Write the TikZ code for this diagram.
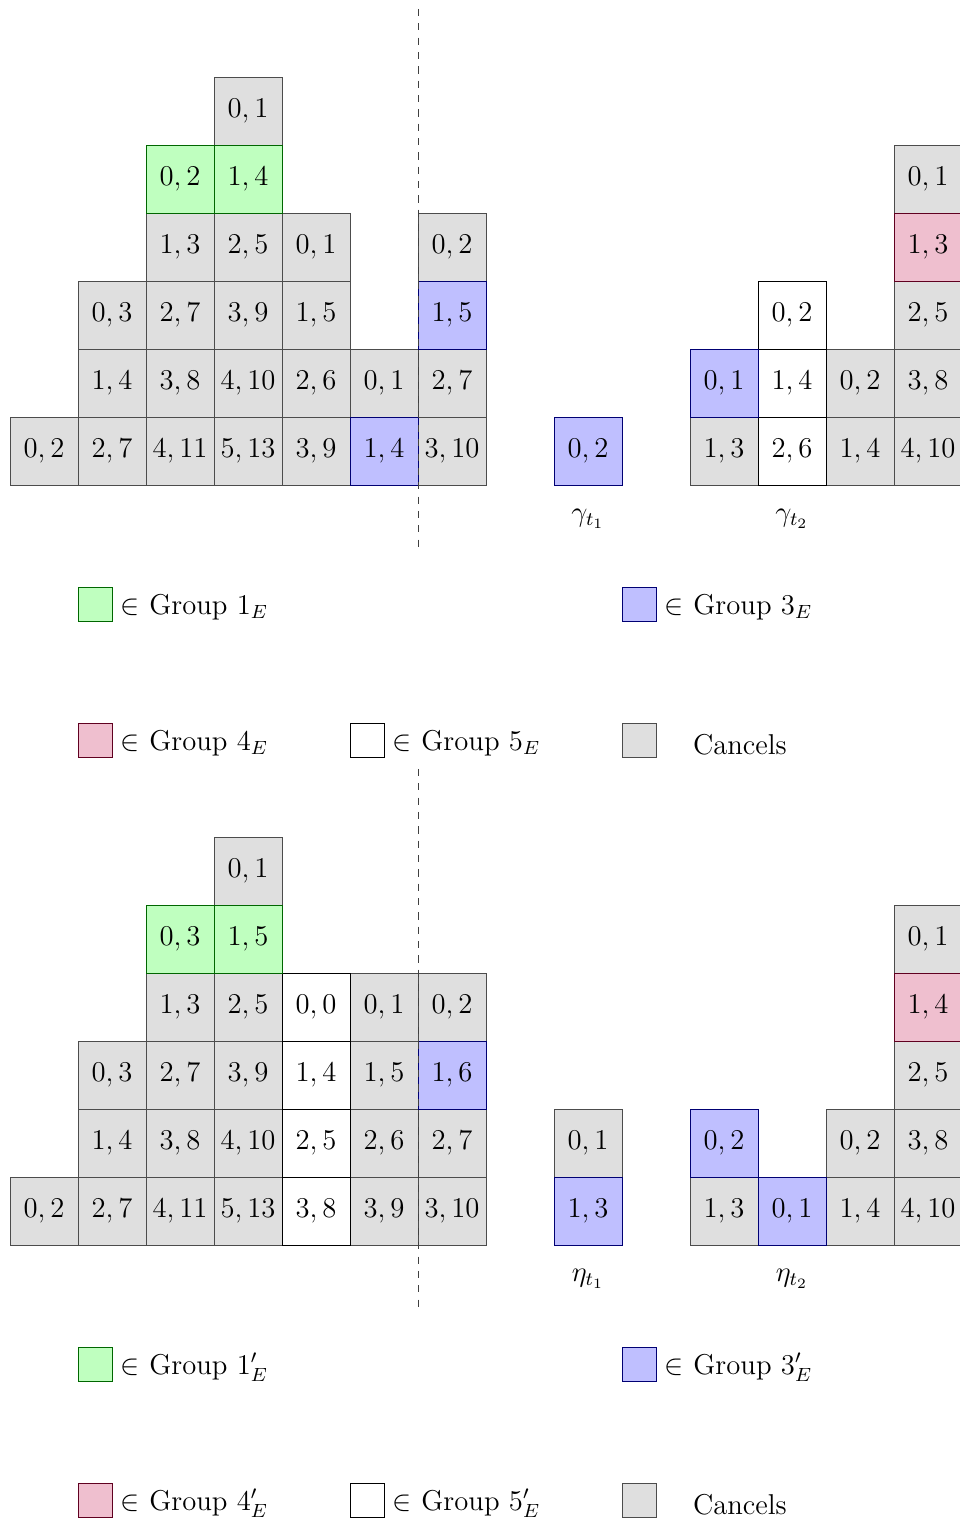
\documentclass[tikz,border=0pt]{standalone}
\begin{document}
\begin{tikzpicture}[
  font=\large,
  cellb/.style={minimum size=1cm, inner sep=0pt, draw},
  gc/.style={cellb, fill=gray!25, draw=black!70},
  gr/.style={cellb, fill=green!25, draw=green!40!black},
  bl/.style={cellb, fill=blue!25, draw=blue!45!black},
  pk/.style={cellb, fill=purple!25, draw=purple!50!black},
  wh/.style={cellb, fill=white, draw=black},
  legsq/.style={minimum size=0.5cm, inner sep=0pt},
  legtxt/.style={anchor=west, yshift=-0.045cm},
  divider/.style={dashed, draw=black!75},
]
\useasboundingbox (-0.147,-15.235) rectangle (13.956,7.132);

% ---------------- top half ----------------
\begin{scope}
\foreach \x/\y/\s/\t in {
  0/0/gc/{0,2}, 1/0/gc/{2,7}, 2/0/gc/{4,11}, 3/0/gc/{5,13}, 4/0/gc/{3,9}, 6/0/gc/{3,10},
  1/1/gc/{1,4}, 2/1/gc/{3,8}, 3/1/gc/{4,10}, 4/1/gc/{2,6}, 5/1/gc/{0,1}, 6/1/gc/{2,7},
  1/2/gc/{0,3}, 2/2/gc/{2,7}, 3/2/gc/{3,9}, 4/2/gc/{1,5},
  2/3/gc/{1,3}, 3/3/gc/{2,5}, 4/3/gc/{0,1}, 6/3/gc/{0,2},
  3/5/gc/{0,1},
  10/0/gc/{1,3}, 12/0/gc/{1,4}, 13/0/gc/{4,10}, 12/1/gc/{0,2}, 13/1/gc/{3,8},
  13/2/gc/{2,5}, 13/4/gc/{0,1},
  11/0/wh/{2,6}, 11/1/wh/{1,4}, 11/2/wh/{0,2},
  5/0/bl/{1,4}, 6/2/bl/{1,5}, 8/0/bl/{0,2}, 10/1/bl/{0,1},
  2/4/gr/{0,2}, 3/4/gr/{1,4},
  13/3/pk/{1,3}}
  \node[\s] (a-\x-\y) at (\x+0.5,\y+0.5) {$\t$};

\coordinate (atop) at (6,7);
\coordinate (abot) at (6,-1);
\draw[divider] (atop) -- (abot);

\node (agam1) at (8.5,-0.5) {$\gamma_{t_1}$};
\node (agam2) at (11.5,-0.5) {$\gamma_{t_2}$};

\node[gr, legsq] (aL1) at (1.25,-1.75) {};
\node[legtxt] (aL1t) at (aL1.east) {$\in$ Group $1_E$};
\node[bl, legsq] (aL3) at (9.25,-1.75) {};
\node[legtxt] (aL3t) at (aL3.east) {$\in$ Group $3_E$};
\node[pk, legsq] (aL4) at (1.25,-3.75) {};
\node[legtxt] (aL4t) at (aL4.east) {$\in$ Group $4_E$};
\node[wh, legsq] (aL5) at (5.25,-3.75) {};
\node[legtxt] (aL5t) at (aL5.east) {$\in$ Group $5_E$};
\node[gc, legsq] (aL6) at (9.25,-3.75) {};
\node[anchor=base west] (aL6t) at (9.92,-3.967) {Cancels};
\end{scope}

% ---------------- bottom half ----------------
\begin{scope}[yshift=-11.176cm]
\foreach \x/\y/\s/\t in {
  0/0/gc/{0,2}, 1/0/gc/{2,7}, 2/0/gc/{4,11}, 3/0/gc/{5,13}, 5/0/gc/{3,9}, 6/0/gc/{3,10},
  1/1/gc/{1,4}, 2/1/gc/{3,8}, 3/1/gc/{4,10}, 5/1/gc/{2,6}, 6/1/gc/{2,7},
  1/2/gc/{0,3}, 2/2/gc/{2,7}, 3/2/gc/{3,9}, 5/2/gc/{1,5},
  2/3/gc/{1,3}, 3/3/gc/{2,5}, 5/3/gc/{0,1}, 6/3/gc/{0,2},
  3/5/gc/{0,1},
  8/1/gc/{0,1},
  10/0/gc/{1,3}, 12/0/gc/{1,4}, 13/0/gc/{4,10}, 12/1/gc/{0,2}, 13/1/gc/{3,8},
  13/2/gc/{2,5}, 13/4/gc/{0,1},
  4/0/wh/{3,8}, 4/1/wh/{2,5}, 4/2/wh/{1,4}, 4/3/wh/{0,0},
  6/2/bl/{1,6}, 8/0/bl/{1,3}, 11/0/bl/{0,1}, 10/1/bl/{0,2},
  2/4/gr/{0,3}, 3/4/gr/{1,5},
  13/3/pk/{1,4}}
  \node[\s] (b-\x-\y) at (\x+0.5,\y+0.5) {$\t$};

\coordinate (btop) at (6,7);
\coordinate (bbot) at (6,-1);
\draw[divider] (btop) -- (bbot);

\node (beta1) at (8.5,-0.5) {$\eta_{t_1}$};
\node (beta2) at (11.5,-0.5) {$\eta_{t_2}$};

\node[gr, legsq] (bL1) at (1.25,-1.75) {};
\node[legtxt] (bL1t) at (bL1.east) {$\in$ Group $1'_E$};
\node[bl, legsq] (bL3) at (9.25,-1.75) {};
\node[legtxt] (bL3t) at (bL3.east) {$\in$ Group $3'_E$};
\node[pk, legsq] (bL4) at (1.25,-3.75) {};
\node[legtxt] (bL4t) at (bL4.east) {$\in$ Group $4'_E$};
\node[wh, legsq] (bL5) at (5.25,-3.75) {};
\node[legtxt] (bL5t) at (bL5.east) {$\in$ Group $5'_E$};
\node[gc, legsq] (bL6) at (9.25,-3.75) {};
\node[anchor=base west] (bL6t) at (9.92,-3.967) {Cancels};
\end{scope}
\end{tikzpicture}
\end{document}
